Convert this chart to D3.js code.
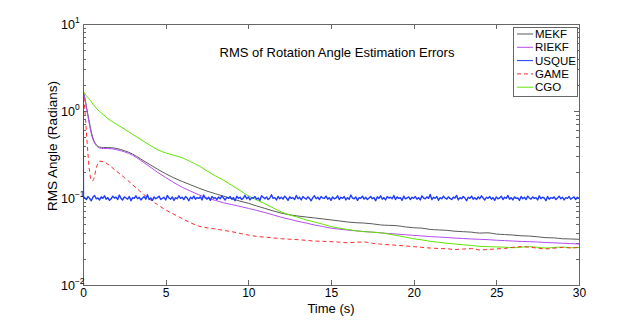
<!DOCTYPE html>
<html><head><meta charset="utf-8">
<script src="https://cdn.jsdelivr.net/npm/d3@7"></script>
<style>body{margin:0;background:#fff}svg{display:block}text{font-family:"Liberation Sans",Arial,sans-serif;fill:#000}</style>
</head><body><svg id="c" width="640" height="321"></svg>
<script>
const times = [0,0.1,0.2,0.3,0.4,0.5,0.6,0.7,0.8,0.9,1,1.25,1.5,1.75,2,2.5,3,3.5,4,4.5,5,5.5,6,6.5,7,7.5,8,8.5,9,9.5,10,10.5,11,11.5,12,12.5,13,13.5,14,14.5,15,15.5,16,16.5,17,17.5,18,18.5,19,19.5,20,20.5,21,21.5,22,22.5,23,23.5,24,24.5,25,25.5,26,26.5,27,27.5,28,28.5,29,29.5,30];
const mekf = [1.70,1.45,1.15,0.90,0.72,0.58,0.49,0.44,0.41,0.395,0.385,
0.38,0.38,0.378,0.372,0.35,0.32,0.28,0.245,0.215,0.19,
0.17,0.155,0.142,0.13,0.12,0.112,0.105,0.098,0.092,0.087,
0.081,0.076,0.071,0.067,0.064,0.062,0.0605,0.059,0.0575,0.056,
0.0545,0.053,0.052,0.0515,0.0505,0.049,0.0485,0.048,0.0465,0.0455,
0.045,0.0435,0.043,0.0425,0.0415,0.041,0.0405,0.0395,0.0398,0.0385,
0.038,0.0375,0.0368,0.0365,0.0358,0.035,0.0348,0.034,0.0338,0.0335];
const riekf = [1.70,1.42,1.10,0.86,0.68,0.55,0.47,0.43,0.40,0.385,0.375,
0.37,0.37,0.368,0.36,0.34,0.31,0.27,0.232,0.198,0.172,
0.15,0.133,0.12,0.109,0.1,0.094,0.088,0.084,0.08,0.076,
0.072,0.068,0.064,0.06,0.057,0.054,0.0515,0.049,0.047,0.045,
0.0438,0.0428,0.042,0.0412,0.0405,0.0398,0.039,0.0385,0.0378,0.0372,
0.0366,0.036,0.0356,0.0352,0.0346,0.0342,0.0338,0.0335,0.0332,0.0327,
0.0324,0.032,0.0317,0.0315,0.0312,0.0308,0.0305,0.0302,0.0299,0.0296];
const cgo = [1.70,1.60,1.50,1.42,1.35,1.28,1.20,1.14,1.08,1.03,0.99,
0.90,0.82,0.76,0.71,0.62,0.54,0.47,0.41,0.36,0.33,
0.31,0.29,0.262,0.235,0.205,0.18,0.16,0.14,0.122,0.106,
0.095,0.086,0.077,0.069,0.064,0.06,0.056,0.053,0.05,0.047,
0.045,0.0435,0.042,0.041,0.0405,0.0398,0.0385,0.037,0.0355,0.034,
0.033,0.0318,0.031,0.0302,0.0296,0.029,0.0285,0.0278,0.0276,0.0274,
0.0272,0.0268,0.0272,0.0276,0.0271,0.0266,0.027,0.0273,0.0268,0.027];
const game = [1.70,1.10,0.60,0.32,0.20,0.16,0.158,0.18,0.22,0.25,0.265,
0.262,0.245,0.225,0.205,0.172,0.142,0.117,0.098,0.084,0.073,
0.065,0.058,0.052,0.0475,0.0455,0.044,0.0425,0.041,0.0392,0.0375,
0.0362,0.0355,0.0348,0.034,0.0336,0.0332,0.0326,0.032,0.0318,0.0315,
0.0311,0.0306,0.031,0.0312,0.0302,0.0295,0.029,0.0286,0.0281,0.0276,
0.0271,0.0266,0.0263,0.0261,0.0256,0.0259,0.0262,0.0253,0.0256,0.026,
0.0263,0.0271,0.0276,0.0272,0.0265,0.026,0.0265,0.027,0.0267,0.027];
// USQUE: initial value then noisy samples every 0.1 s from 0.1 to 30
const usqueStartT = [0, 0.03];
const usqueStartV = [1.7, 0.1];
const usqueNoise = [
0.101,0.096,0.104,0.099,0.093,0.102,0.107,0.098,0.100,0.095,
0.103,0.099,0.106,0.097,0.101,0.094,0.098,0.105,0.100,0.102,
0.096,0.108,0.099,0.095,0.103,0.100,0.097,0.104,0.093,0.101,
0.099,0.106,0.098,0.102,0.095,0.100,0.104,0.097,0.109,0.096,
0.100,0.094,0.103,0.098,0.101,0.105,0.096,0.099,0.102,0.095,
0.107,0.100,0.097,0.103,0.094,0.101,0.098,0.106,0.099,0.102,
0.096,0.104,0.100,0.093,0.102,0.098,0.105,0.097,0.101,0.099,
0.103,0.095,0.108,0.100,0.097,0.102,0.094,0.104,0.099,0.101,
0.096,0.103,0.098,0.106,0.100,0.095,0.102,0.099,0.104,0.097,
0.101,0.093,0.105,0.099,0.102,0.096,0.100,0.107,0.098,0.103,
0.095,0.101,0.099,0.104,0.097,0.100,0.094,0.106,0.102,0.098,
0.103,0.096,0.100,0.109,0.099,0.101,0.095,0.104,0.098,0.102,
0.097,0.105,0.100,0.094,0.103,0.099,0.101,0.096,0.107,0.098,
0.102,0.095,0.104,0.100,0.097,0.103,0.099,0.093,0.101,0.106,
0.098,0.102,0.096,0.104,0.100,0.099,0.105,0.097,0.101,0.094,
0.103,0.098,0.100,0.106,0.096,0.102,0.099,0.104,0.095,0.101,
0.097,0.108,0.100,0.098,0.103,0.094,0.101,0.099,0.105,0.097,
0.102,0.096,0.100,0.104,0.098,0.101,0.093,0.103,0.099,0.106,
0.097,0.101,0.095,0.104,0.100,0.102,0.098,0.107,0.096,0.103,
0.099,0.101,0.094,0.105,0.098,0.100,0.103,0.096,0.102,0.099,
0.104,0.097,0.101,0.095,0.106,0.100,0.098,0.103,0.099,0.110,
0.096,0.102,0.099,0.104,0.094,0.101,0.098,0.105,0.100,0.097,
0.103,0.099,0.096,0.102,0.100,0.107,0.095,0.101,0.098,0.104,
0.100,0.093,0.102,0.099,0.105,0.097,0.101,0.096,0.103,0.098,
0.106,0.100,0.095,0.102,0.099,0.104,0.097,0.101,0.094,0.103,
0.098,0.100,0.105,0.096,0.102,0.099,0.107,0.097,0.101,0.095,
0.103,0.099,0.100,0.094,0.104,0.098,0.102,0.096,0.105,0.100,
0.097,0.103,0.099,0.101,0.095,0.106,0.098,0.102,0.100,0.093,
0.104,0.097,0.101,0.099,0.103,0.096,0.100,0.105,0.098,0.102,
0.095,0.101,0.099,0.104,0.097,0.100,0.103,0.096,0.102,0.099];
const xTicks = [0,5,10,15,20,25,30];
const yTickExps = [-2,-1,0,1];
const seriesNames = ["MEKF","RIEKF","USQUE","GAME","CGO"];
const seriesColors = ["#5a5a5a","#b54cf2","#1e3cff","#ff2a2a","#5fe600"];
const titleText = "RMS of Rotation Angle Estimation Errors";
const xLabel = "Time (s)";
const yLabel = "RMS Angle (Radians)";

const svg = d3.select("#c");
const L=83,R=579,T=24,B=285;
const x = d3.scaleLinear().domain([0,30]).range([L,R]);
const y = d3.scaleLog().domain([0.01,10]).range([B,T]);
const axisColor = "#666";

svg.append("defs").append("clipPath").attr("id","clip").append("rect")
  .attr("x",L).attr("y",T).attr("width",R-L).attr("height",B-T);

const minor = [];
for (let e=-2;e<1;e++) for (let m=2;m<=9;m++) minor.push(m*Math.pow(10,e));

function styleAxis(g){
  g.selectAll("path,line").attr("stroke",axisColor).attr("shape-rendering","crispEdges");
}
const gx = svg.append("g").attr("transform",`translate(0,${B})`)
  .call(d3.axisBottom(x).tickValues(xTicks).tickSizeInner(-5).tickSizeOuter(0).tickPadding(3).tickFormat(d3.format("d")));
gx.selectAll("text").attr("font-size","12px").attr("fill","#000");
gx.call(styleAxis);
svg.append("g").attr("transform",`translate(0,${T})`)
  .call(d3.axisTop(x).tickValues(xTicks).tickSizeInner(-5).tickSizeOuter(0).tickFormat(""))
  .call(styleAxis);
const yMajor = yTickExps.map(e=>Math.pow(10,e));
svg.append("g").attr("transform",`translate(${L},0)`)
  .call(d3.axisLeft(y).tickValues(yMajor).tickSizeInner(-5).tickSizeOuter(0).tickFormat(""))
  .call(styleAxis);
svg.append("g").attr("transform",`translate(${L},0)`)
  .call(d3.axisLeft(y).tickValues(minor).tickSizeInner(-3).tickSizeOuter(0).tickFormat(""))
  .call(g=>g.select(".domain").remove()).call(styleAxis);
svg.append("g").attr("transform",`translate(${R},0)`)
  .call(d3.axisRight(y).tickValues(yMajor).tickSizeInner(-5).tickSizeOuter(0).tickFormat(""))
  .call(styleAxis);
svg.append("g").attr("transform",`translate(${R},0)`)
  .call(d3.axisRight(y).tickValues(minor).tickSizeInner(-3).tickSizeOuter(0).tickFormat(""))
  .call(g=>g.select(".domain").remove()).call(styleAxis);

yTickExps.forEach(e=>{
  const t = svg.append("text").attr("x",61).attr("y",y(Math.pow(10,e))+4.5).attr("font-size","12.5px");
  t.append("tspan").text("10");
  t.append("tspan").attr("dy",-5.5).attr("font-size","8.5px").text(e<0?"\u2212"+(-e):String(e));
});

const plot = svg.append("g").attr("clip-path","url(#clip)");
const line = d3.line().x(d=>x(d[0])).y(d=>y(d[1])).curve(d3.curveMonotoneX);
const lineLin = d3.line().x(d=>x(d[0])).y(d=>y(d[1]));
const usqueT = usqueStartT.concat(usqueNoise.map((_,i)=>0.1*(i+1)));
const usqueV = usqueStartV.concat(usqueNoise);
const series = [
  {n:0, d:d3.zip(times,mekf), f:line},
  {n:1, d:d3.zip(times,riekf), f:line},
  {n:4, d:d3.zip(times,cgo), f:line},
  {n:3, d:d3.zip(times,game), f:line, dash:"4,3"},
  {n:2, d:d3.zip(usqueT,usqueV), f:lineLin},
];
series.forEach(s=>{
  plot.append("path").attr("d",s.f(s.d)).attr("fill","none")
    .attr("stroke",seriesColors[s.n]).attr("stroke-width",s.n===2?1.4:1)
    .attr("stroke-linejoin","round")
    .attr("stroke-dasharray",s.dash||null);
});

svg.append("text").attr("x",337).attr("y",57).attr("text-anchor","middle").attr("font-size","13px").text(titleText);
svg.append("text").attr("x",331).attr("y",313).attr("text-anchor","middle").attr("font-size","13px").text(xLabel);
svg.append("text").attr("transform","translate(57,146) rotate(-90)").attr("text-anchor","middle").attr("font-size","13.5px").text(yLabel);

const lg = svg.append("g");
lg.append("rect").attr("x",513.5).attr("y",27.5).attr("width",64).attr("height",69)
  .attr("fill","#fff").attr("stroke",axisColor).attr("shape-rendering","crispEdges");
seriesNames.forEach((nm,i)=>{
  const yy = 34 + i*13.3;
  lg.append("line").attr("x1",517).attr("x2",533).attr("y1",yy).attr("y2",yy)
    .attr("stroke",seriesColors[i]).attr("stroke-width",1)
    .attr("stroke-dasharray", nm==="GAME"?"4,3":null);
  lg.append("text").attr("x",535).attr("y",yy+4).attr("font-size","11.5px").text(nm);
});
</script></body></html>
